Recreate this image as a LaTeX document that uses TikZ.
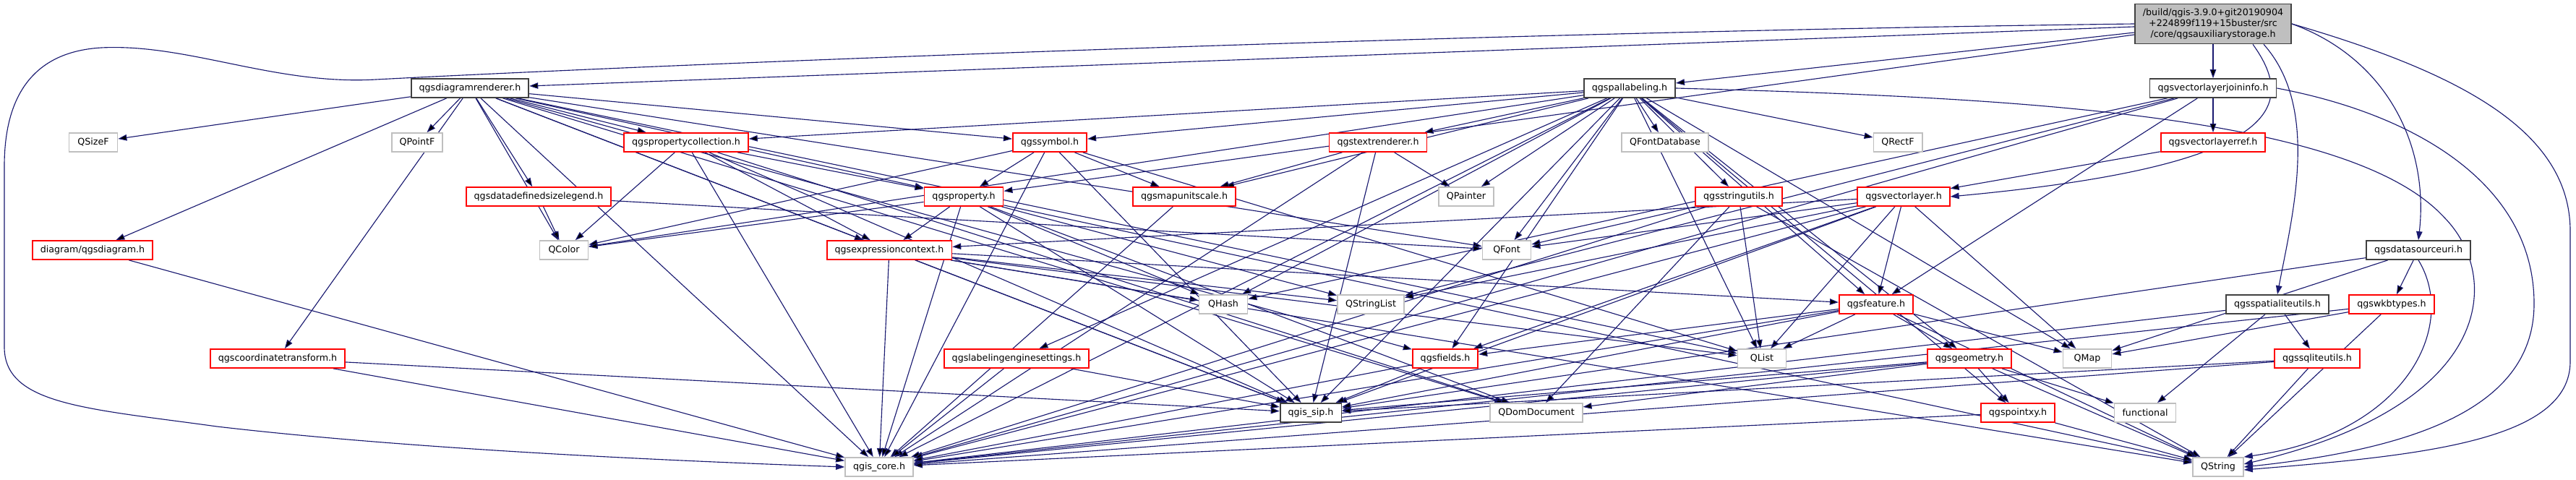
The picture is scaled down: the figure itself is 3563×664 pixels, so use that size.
\documentclass[tikz,border=0pt]{standalone}
\usepackage{fontspec}
\setmainfont{DejaVu Sans}
\usepackage{xcolor}
\definecolor{dxedge}{RGB}{25,25,112}
\definecolor{dxred}{RGB}{255,0,0}
\definecolor{dxgray}{RGB}{191,191,191}
\definecolor{dxdark}{RGB}{64,64,64}
\usetikzlibrary{arrows.meta, backgrounds}
\tikzset{
  filebox/.style={rectangle, font=\fontsize{3.6}{4.15}\selectfont, minimum height=0.26cm, minimum width=0.67cm, inner xsep=0.11cm, inner ysep=0pt, fill=white, line width=0.5pt},
  mainfile/.style={filebox, fill=dxgray, draw=dxdark, align=center, minimum height=0.55cm},
  docfile/.style={filebox, draw=dxdark},
  redfile/.style={filebox, draw=dxred},
  extfile/.style={filebox, draw=dxgray},
  dep/.style={draw=dxedge, line width=0.32pt, -{Triangle[length=0.12cm, width=0.085cm]}}
}

\begin{document}
\begin{tikzpicture}[x=0.01cm, y=-0.01cm]
  \useasboundingbox (0,0) rectangle (3563,664);

  % --- rank 0 ---
  \node[mainfile] (aux) at (3061,33) {/build/qgis-3.9.0+git20190904\\+224899f119+15buster/src\\/core/qgsauxiliarystorage.h};

  % --- rank 1 ---
  \node[docfile] (dren) at (650,122) {qgsdiagramrenderer.h};
  \node[docfile] (pal) at (2254,122) {qgspallabeling.h};
  \node[docfile] (vlji) at (3061,122) {qgsvectorlayerjoininfo.h};

  % --- rank 2 ---
  \node[extfile] (qsizef) at (129,197) {QSizeF};
  \node[extfile] (qpointf) at (577,197) {QPointF};
  \node[redfile] (pcoll) at (949,197) {qgspropertycollection.h};
  \node[redfile] (sym) at (1452,197) {qgssymbol.h};
  \node[redfile] (trend) at (1906,197) {qgstextrenderer.h};
  \node[extfile] (qfdb) at (2303,197) {QFontDatabase};
  \node[extfile] (qrectf) at (2625,197) {QRectF};
  \node[redfile] (vlref) at (3061,197) {qgsvectorlayerref.h};

  % --- rank 3 ---
  \node[redfile] (ddsl) at (745,272) {qgsdatadefinedsizelegend.h};
  \node[redfile] (prop) at (1333,272) {qgsproperty.h};
  \node[redfile] (mus) at (1638,272) {qgsmapunitscale.h};
  \node[extfile] (qpainter) at (2028,272) {QPainter};
  \node[redfile] (strutil) at (2405,272) {qgsstringutils.h};
  \node[redfile] (vlayer) at (2633,272) {qgsvectorlayer.h};

  % --- rank 4 ---
  \node[redfile] (diag) at (128,346) {diagram/qgsdiagram.h};
  \node[extfile] (qcolor) at (780,346) {QColor};
  \node[redfile] (expctx) at (1230,346) {qgsexpressioncontext.h};
  \node[extfile] (qfont) at (2084,346) {QFont};
  \node[docfile] (dsuri) at (3345,346) {qgsdatasourceuri.h};

  % --- rank 5 ---
  \node[extfile] (qhash) at (1692,421) {QHash};
  \node[extfile] (qstrlist) at (1896,421) {QStringList};
  \node[redfile] (feat) at (2595,421) {qgsfeature.h};
  \node[docfile] (slutil) at (3150,421) {qgsspatialiteutils.h};
  \node[redfile] (wkb) at (3308,421) {qgswkbtypes.h};

  % --- rank 6 ---
  \node[redfile] (ctrans) at (384,496) {qgscoordinatetransform.h};
  \node[redfile] (lesett) at (1406,496) {qgslabelingenginesettings.h};
  \node[redfile] (fields) at (1999,496) {qgsfields.h};
  \node[extfile] (qlist) at (2437,496) {QList};
  \node[redfile] (geom) at (2724,496) {qgsgeometry.h};
  \node[extfile] (qmap) at (2887,496) {QMap};
  \node[redfile] (sqlutil) at (3205,496) {qgssqliteutils.h};

  % --- rank 7 ---
  \node[docfile] (sip) at (1813,571) {qgis\_sip.h};
  \node[extfile] (qdomdoc) at (2125,571) {QDomDocument};
  \node[redfile] (pxy) at (2791,571) {qgspointxy.h};
  \node[extfile] (func) at (2967,571) {functional};

  % --- rank 8 ---
  \node[extfile] (core) at (1216,646) {qgis\_core.h};
  \node[extfile] (qstring) at (3068,646) {QString};

  \begin{pgfonlayer}{background}
  \fill[white] (0,0) rectangle (3563,664);

  % includes of qgsauxiliarystorage.h
  \path[dep] (aux) edge (dren) edge (pal) edge (vlji) edge (prop);
  \draw[dep] ([xshift=0.55cm]aux.south) .. controls (3180,150) and (3150,230) .. (vlayer.east);
  \draw[dep] ([xshift=0.7cm]aux.south) .. controls (3210,150) and (3170,300) .. (slutil.north);
  \draw[dep] (aux.east) .. controls (3300,80) and (3360,200) .. (dsuri.north);
  \draw[dep] (aux.west) .. controls (2000,45) and (900,90) .. (520,110)
    .. controls (380,118) and (260,60) .. (140,66)
    .. controls (40,72) and (6,140) .. (6,230) -- (6,480)
    .. controls (6,560) and (120,565) .. (300,590)
    .. controls (600,625) and (1000,640) .. (core.west);
  \draw[dep] (aux.east) .. controls (3400,100) and (3555,180) .. (3555,320) -- (3555,500)
    .. controls (3555,610) and (3350,630) .. ([yshift=-0.04cm]qstring.east);

  % includes of qgsdiagramrenderer.h
  \path[dep] (dren) edge (qsizef) edge (qpointf) edge (pcoll) edge (diag) edge (ctrans)
    edge (ddsl) edge (qcolor) edge (sym) edge (prop) edge (qfont) edge (expctx)
    edge (fields) edge (qlist) edge (qdomdoc) edge (sip) edge (core);

  % includes of qgspallabeling.h
  \path[dep] (pal) edge (pcoll) edge (sym) edge (trend) edge (qfdb) edge (mus) edge (qpainter)
    edge (strutil) edge (qrectf) edge (feat) edge (geom) edge (qmap) edge (qlist)
    edge (qfont) edge (qcolor) edge (qhash) edge (fields) edge (sip) edge (core)
    edge (pxy) edge (lesett);
  \draw[dep] (pal.east) .. controls (2800,135) and (3250,160) .. (3380,300)
    .. controls (3460,380) and (3455,560) .. ([yshift=0.04cm]qstring.east);

  % includes of qgsvectorlayerjoininfo.h
  \path[dep] (vlji) edge (vlref) edge (feat) edge (qhash) edge (qstrlist) edge (core);
  \draw[dep] (vlji.east) .. controls (3350,160) and (3505,260) .. (3505,420)
    .. controls (3505,560) and (3350,620) .. (qstring.east);

  % red nodes
  \path[dep] (vlref) edge (vlayer);
  \path[dep] (pcoll) edge (prop) edge (qcolor) edge (expctx) edge (sip) edge (qdomdoc) edge (core);
  \path[dep] (sym) edge (qcolor) edge (prop) edge (mus) edge (qlist) edge (sip) edge (core);
  \path[dep] (trend) edge (mus) edge (qpainter) edge (sip) edge (core);
  \path[dep] (ddsl) edge (qcolor) edge (qfont);
  \path[dep] (prop) edge (qcolor) edge (expctx) edge (qhash) edge (qstrlist) edge (qstring)
    edge (qdomdoc) edge (sip) edge (core);
  \path[dep] (mus) edge (core);
  \path[dep] (strutil) edge (qfont) edge (qlist) edge (qdomdoc) edge (core) edge (qstring);
  \path[dep] (vlayer) edge (expctx) edge (qfont) edge (qstrlist) edge (fields) edge (feat)
    edge (qlist) edge (qmap) edge (sip) edge (core);
  \path[dep] (diag) edge (core);
  \path[dep] (expctx) edge (qhash) edge (qstrlist) edge (qlist) edge (feat) edge (sip)
    edge (core) edge (qstring);

  % includes of qgsdatasourceuri.h
  \path[dep] (dsuri) edge (qmap) edge (sip) edge (wkb);
  \draw[dep] (dsuri.south) .. controls (3400,450) and (3330,600) .. (qstring.north east);

  \path[dep] (feat) edge (fields) edge (qlist) edge (qmap) edge (geom) edge (sip) edge (core)
    edge (qstring);
  \path[dep] (slutil) edge (func) edge (sqlutil) edge (core);
  \path[dep] (wkb) edge (qmap) edge (core) edge (qstring);
  \path[dep] (ctrans) edge (sip) edge (core);
  \path[dep] (lesett) edge (sip) edge (core);
  \path[dep] (fields) edge (sip) edge (core);
  \path[dep] (geom) edge (qdomdoc) edge (pxy) edge (func) edge (sip) edge (core) edge (qstring);
  \path[dep] (sqlutil) edge (sip) edge (core) edge (qstring);
  \path[dep] (pxy) edge (core) edge (qstring);
  \end{pgfonlayer}
\end{tikzpicture}
\end{document}
